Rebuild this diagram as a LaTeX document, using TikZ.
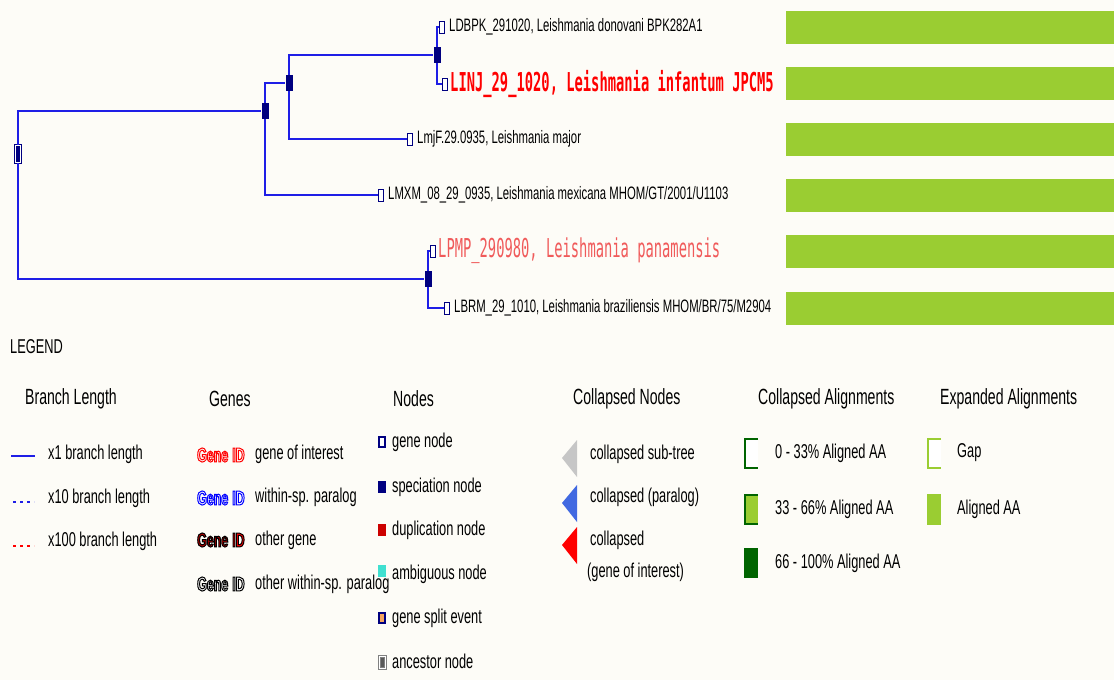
\documentclass[tikz,border=0pt]{standalone}
\usepackage{fontspec}
\usetikzlibrary{positioning}
\setmainfont{Liberation Sans}
\newfontfamily\leaffont[FakeStretch=0.63]{Liberation Sans}
\newfontfamily\legfont[FakeStretch=0.64]{Liberation Sans}
\newfontfamily\idfont[FakeStretch=0.53]{DejaVu Sans Mono}
\newfontfamily\badgefont[FakeStretch=0.62]{Liberation Sans}
\definecolor{bgc}{RGB}{253,252,247}
\definecolor{branchc}{RGB}{30,30,230}
\definecolor{navyc}{RGB}{0,0,128}
\definecolor{barc}{RGB}{154,205,50}
\definecolor{darkg}{RGB}{0,100,0}
\definecolor{salmonc}{RGB}{240,90,90}
\definecolor{dupc}{RGB}{204,0,0}
\definecolor{ambc}{RGB}{64,224,208}
\definecolor{splitc}{RGB}{244,164,96}
\definecolor{paralogc}{RGB}{65,105,225}
% outlined text: fill colour #1, stroke rgb #2
\newcommand\outl[3]{{\color{#1}\special{pdf:literal direct #2 RG 2 Tr 1.0 w}#3\special{pdf:literal direct 0 Tr}}}
\newcommand\geneid[3]{\outl{#2}{#1}{Gene}\hspace{4pt}\outl{#3}{#1}{ID}}

\begin{document}
\begin{tikzpicture}[x=1pt, y=-1pt,
    branch/.style={draw=branchc, line width=2pt},
    spnode/.style={fill=navyc, minimum width=7pt, minimum height=16pt, inner sep=0pt},
    ancnode/.style={draw=navyc, fill=navyc, line width=1.2pt, double=white, double distance=1.3pt, minimum width=5pt, minimum height=17pt, inner sep=0pt},
    genebox/.style={draw=navyc, fill=white, line width=1pt, minimum width=5pt, minimum height=12pt, inner sep=0pt},
    leaftext/.style={font={\leaffont\fontsize{18}{18}\selectfont}, inner sep=1pt},
    redtext/.style={font={\idfont\bfseries\fontsize{26}{26}\selectfont}, text=red, inner sep=1pt},
    pinktext/.style={font={\idfont\fontsize{26}{26}\selectfont}, text=salmonc, inner sep=1pt},
    legtext/.style={font={\legfont\fontsize{20}{20}\selectfont}, anchor=west, inner sep=0pt},
    leghead/.style={font={\legfont\fontsize{22}{22}\selectfont}, anchor=west, inner sep=0pt},
    badge/.style={font={\badgefont\bfseries\fontsize{20}{20}\selectfont}, anchor=west, inner sep=0pt},
    icon/.style={line width=1.5pt, minimum width=6pt, minimum height=10pt, inner sep=0pt}]

    \fill[bgc] (0,0) rectangle (1114,680);
    \useasboundingbox (0,0) rectangle (1114,680);

    \node[ancnode] (root) at (18,154) {};
    \node[spnode] (n3) at (265,111) {};
    \node[spnode] (n2) at (289,83) {};
    \node[spnode] (n1) at (437,55) {};
    \node[spnode] (n4) at (428,279) {};

    \node[genebox] (ldbpk) at (442,27) {};
    \node[genebox] (linj) at (445,84) {};
    \node[genebox] (lmjf) at (410,139) {};
    \node[genebox] (lmxm) at (381,195) {};
    \node[genebox] (lpmp) at (433,251) {};
    \node[genebox] (lbrm) at (447,308) {};

    \draw[branch] (root.north) |- (n3.west);
    \draw[branch] (root.south) |- (n4.west);
    \draw[branch] (n3.north) |- (n2.west);
    \draw[branch] (n3.south) |- (lmxm.west);
    \draw[branch] (n2.north) |- (n1.west);
    \draw[branch] (n2.south) |- (lmjf.west);
    \draw[branch] (n1.north) |- (ldbpk.west);
    \draw[branch] (n1.south) |- (linj.west);
    \draw[branch] (n4.north) |- (lpmp.west);
    \draw[branch] (n4.south) |- (lbrm.west);

    \node[leaftext, right=3pt of ldbpk] (ldbpk-t) {LDBPK\_291020, Leishmania donovani BPK282A1};
    \node[redtext, right=1pt of linj] (linj-t) {LINJ\_29\_1020, Leishmania infantum JPCM5};
    \node[leaftext, right=3pt of lmjf] (lmjf-t) {LmjF.29.0935, Leishmania major};
    \node[leaftext, right=3pt of lmxm] (lmxm-t) {LMXM\_08\_29\_0935, Leishmania mexicana MHOM/GT/2001/U1103};
    \node[pinktext, right=1pt of lpmp] (lpmp-t) {LPMP\_290980, Leishmania panamensis};
    \node[leaftext, right=3pt of lbrm] (lbrm-t) {LBRM\_29\_1010, Leishmania braziliensis MHOM/BR/75/M2904};

    \foreach \t in {11,67,123,179,235,292}
        \fill[barc] (786,\t) rectangle ++(330,33);

    \node[legtext] (legend) at (10,347) {LEGEND};

    \node[leghead] (h-branch) at (25,399) {Branch Length};
    \node[leghead] (h-genes) at (209,399) {Genes};
    \node[leghead] (h-nodes) at (393,399) {Nodes};
    \node[leghead] (h-coll) at (573,399) {Collapsed Nodes};
    \node[leghead] (h-calign) at (758,399) {Collapsed Alignments};
    \node[leghead] (h-ealign) at (940,399) {Expanded Alignments};

    \draw[branchc, line width=2pt] (11,456) -- (35,456);
    \node[legtext] (bl1) at (48,454) {x1 branch length};
    \draw[branchc, line width=2pt, dash pattern=on 3pt off 4pt] (13,502) -- (34,502);
    \node[legtext] (bl10) at (48,498) {x10 branch length};
    \draw[red, line width=2pt, dash pattern=on 3pt off 4pt] (13,546) -- (34,546);
    \node[legtext] (bl100) at (48,541) {x100 branch length};

    \node[badge] (g1) at (197,455) {\geneid{1 0 0}{white}{white}};
    \node[badge] (g2) at (197,498) {\geneid{0 0 1}{white}{white}};
    \node[badge] (g3) at (197,540) {\geneid{0 0 0}{red!75!black}{red}};
    \node[badge] (g4) at (197,584) {\geneid{0 0 0}{white}{white}};
    \node[legtext] (g1-t) at (255,454) {gene of interest};
    \node[legtext] (g2-t) at (255,497) {within-sp. paralog};
    \node[legtext] (g3-t) at (255,540) {other gene};
    \node[legtext] (g4-t) at (255,584) {other within-sp. paralog};

    \node[icon, draw=navyc, fill=white] (nd1) at (382,442) {};
    \node[icon, draw=navyc, fill=navyc] (nd2) at (382,487) {};
    \node[icon, draw=dupc, fill=dupc] (nd3) at (382,530) {};
    \node[icon, draw=ambc, fill=ambc] (nd4) at (382,571) {};
    \node[icon, draw=navyc, fill=splitc] (nd5) at (382,618) {};
    \node[icon, draw=gray, fill=gray!70!black, line width=1pt, double=white, double distance=1pt, minimum height=12pt] (nd6) at (382,662) {};
    \node[legtext] (nd1-t) at (392,442) {gene node};
    \node[legtext] (nd2-t) at (392,487) {speciation node};
    \node[legtext] (nd3-t) at (392,530) {duplication node};
    \node[legtext] (nd4-t) at (392,574) {ambiguous node};
    \node[legtext] (nd5-t) at (392,618) {gene split event};
    \node[legtext] (nd6-t) at (392,661) {ancestor node};

    \fill[gray!45] (562,458) -- (577,440) -- (577,477) -- cycle;
    \fill[paralogc] (562,503) -- (577,485) -- (577,522) -- cycle;
    \fill[red] (562,545) -- (577,527) -- (577,564) -- cycle;
    \node[legtext] (c1-t) at (590,454) {collapsed sub-tree};
    \node[legtext] (c2-t) at (590,497) {collapsed (paralog)};
    \node[legtext] (c3-t) at (590,540) {collapsed};
    \node[legtext] (c4-t) at (587,572) {(gene of interest)};

    \fill[white] (745,439) rectangle (758,468);
    \draw[darkg, line width=1.5pt] (758,439) -- (745,439) -- (745,468) -- (758,468);
    \fill[barc] (745,495) rectangle (758,524);
    \draw[darkg, line width=1.5pt] (758,495) -- (745,495) -- (745,524) -- (758,524);
    \fill[darkg] (744,548) rectangle (758,578);
    \node[legtext] (a1-t) at (775,453) {0 - 33\% Aligned AA};
    \node[legtext] (a2-t) at (775,509) {33 - 66\% Aligned AA};
    \node[legtext] (a3-t) at (775,563) {66 - 100\% Aligned AA};

    \fill[white] (928,439) rectangle (941,468);
    \draw[barc, line width=1.5pt] (941,439) -- (928,439) -- (928,468) -- (941,468);
    \fill[barc] (927,494) rectangle (941,525);
    \node[legtext] (e1-t) at (957,453) {Gap};
    \node[legtext] (e2-t) at (957,509) {Aligned AA};

\end{tikzpicture}
\end{document}
